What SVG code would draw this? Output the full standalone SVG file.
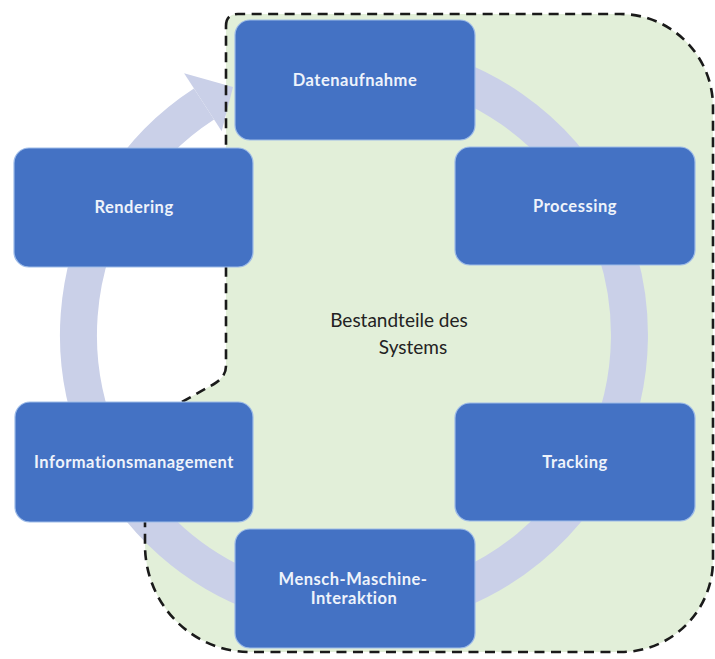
<svg xmlns="http://www.w3.org/2000/svg" width="715" height="659" viewBox="0 0 715 659">
  <style>
    .node rect { fill: #4472c4; stroke: #9dbbe8; stroke-width: 1.2; }
    .node text { fill: #eef3fb; font-family: "Lato", "Liberation Sans", sans-serif; font-weight: bold; font-size: 16.5px; letter-spacing: 0.5px; text-anchor: middle; }
    .title { fill: #222222; font-family: "Lato", "Liberation Sans", sans-serif; font-size: 19px; text-anchor: middle; }
    .area { fill: #e2efd9; }
    .area-border { fill: none; stroke: #1a1a1a; stroke-width: 2.6; stroke-dasharray: 10 6.5; }
    .ring { fill: none; stroke: #cad0e8; stroke-width: 37; }
    .ring-head { fill: #cad0e8; }
  </style>
  <defs>
    <path id="areaShape" d="M 226 26 Q 226 14 238 14 L 620 14 A 93 93 0 0 1 713 107 L 713 560 A 92 92 0 0 1 621 652 L 250 652 A 105 107 0 0 1 145 545 L 145 420 L 180 403 L 214 384 Q 226 377 226 366 Z"/>
  </defs>

  <rect width="715" height="659" fill="#ffffff"/>

  <!-- system boundary fill -->
  <use href="#areaShape" class="area"/>

  <!-- circular cycle arrow -->
  <g id="connectors">
    <path class="ring" d="M 401.8 63.7 A 275.5 275.5 0 1 1 204 103.9"/>
    <polygon class="ring-head" points="184.1,73.3 233,87 221.7,131.2"/>
  </g>

  <!-- system boundary outline -->
  <use href="#areaShape" class="area-border"/>

  <g id="node-datenaufnahme" class="node">
    <rect x="235" y="20" width="240" height="120" rx="15"/>
    <text x="355" y="86">Datenaufnahme</text>
  </g>
  <g id="node-processing" class="node">
    <rect x="455" y="147" width="240" height="118" rx="15"/>
    <text x="575" y="212">Processing</text>
  </g>
  <g id="node-tracking" class="node">
    <rect x="455" y="403" width="240" height="118" rx="15"/>
    <text x="575" y="468">Tracking</text>
  </g>
  <g id="node-mmi" class="node">
    <rect x="235" y="529" width="240" height="119" rx="15"/>
    <text x="353" y="585">Mensch-Maschine-</text>
    <text x="354" y="604">Interaktion</text>
  </g>
  <g id="node-informationsmanagement" class="node">
    <rect x="15" y="402" width="238" height="120" rx="15"/>
    <text x="134" y="468">Informationsmanagement</text>
  </g>
  <g id="node-rendering" class="node">
    <rect x="14" y="148" width="239" height="119" rx="15"/>
    <text x="134" y="213">Rendering</text>
  </g>

  <text class="title" x="399" y="327">Bestandteile des</text>
  <text class="title" x="413" y="354">Systems</text>
</svg>
